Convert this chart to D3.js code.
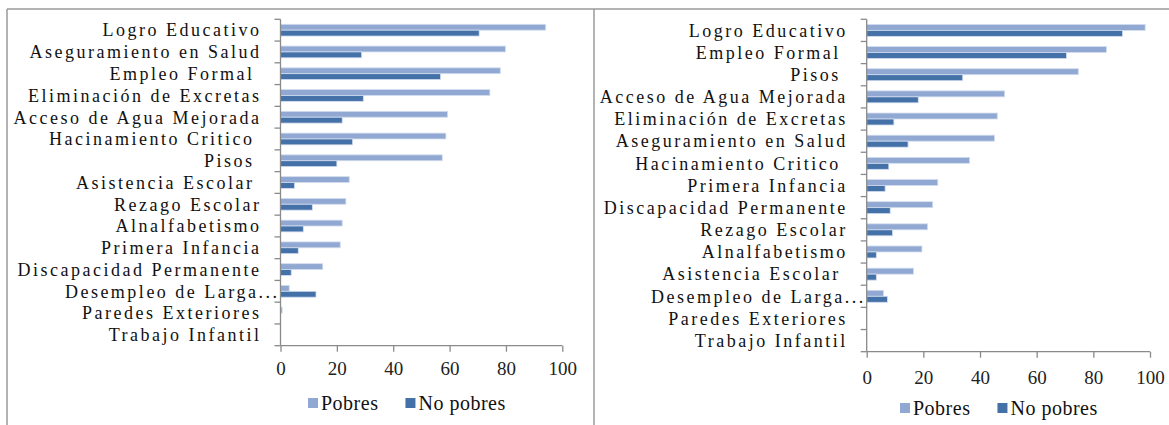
<!DOCTYPE html>
<html>
<head>
<meta charset="utf-8">
<script src="https://cdn.jsdelivr.net/npm/d3@7"></script>
<style>
  body { margin: 0; background: #fff; }
  svg { display: block; }
</style>
</head>
<body>
<svg id="chart" width="1169" height="425"></svg>
<script>
// ---------- data ----------
const seriesNames = ["Pobres", "No pobres"];
const seriesColors = ["#91a9d2", "#4471a8"];

const leftCategories = ["Logro Educativo", "Aseguramiento en Salud", "Empleo Formal ", "Eliminación de Excretas",
  "Acceso de Agua Mejorada", "Hacinamiento Critico ", "Pisos ", "Asistencia Escolar ", "Rezago Escolar",
  "Alnalfabetismo", "Primera Infancia", "Discapacidad Permanente", "Desempleo de Larga...", "Paredes Exteriores",
  "Trabajo Infantil"];
const leftPobres   = [94.1, 79.8, 78.0, 74.3, 59.3, 58.7, 57.4, 24.4, 23.2, 21.9, 21.2, 15.0, 3.1, 0.6, 0];
const leftNoPobres = [70.5, 28.8, 56.8, 29.4, 21.9, 25.6, 20.0, 5.0, 11.3, 8.1, 6.3, 3.8, 12.6, 0, 0];

const rightCategories = ["Logro Educativo", "Empleo Formal ", "Pisos ", "Acceso de Agua Mejorada",
  "Eliminación de Excretas", "Aseguramiento en Salud", "Hacinamiento Critico ", "Primera Infancia",
  "Discapacidad Permanente", "Rezago Escolar", "Alnalfabetismo", "Asistencia Escolar ", "Desempleo de Larga...",
  "Paredes Exteriores", "Trabajo Infantil"];
const rightPobres   = [98.3, 84.6, 74.7, 48.7, 46.1, 45.1, 36.3, 25.1, 23.3, 21.5, 19.5, 16.5, 5.9, 0, 0];
const rightNoPobres = [90.3, 70.5, 33.9, 18.2, 9.6, 14.6, 7.8, 6.5, 8.3, 9.1, 3.4, 3.4, 7.3, 0, 0];

const xTicks = [0, 20, 40, 60, 80, 100];

// ---------- drawing ----------
const FONT = "'Liberation Serif', 'Times New Roman', Times, 'DejaVu Serif', serif";
const svg = d3.select("#chart");
const frameColor = "#9a9a9a";

// frame lines
svg.append("line").attr("x1", 7).attr("x2", 1169).attr("y1", 9).attr("y2", 9)
  .attr("stroke", frameColor).attr("stroke-width", 1.5);
svg.append("line").attr("x1", 7).attr("x2", 7).attr("y1", 9).attr("y2", 425)
  .attr("stroke", frameColor).attr("stroke-width", 1.5);
svg.append("line").attr("x1", 594).attr("x2", 594).attr("y1", 9).attr("y2", 425)
  .attr("stroke", frameColor).attr("stroke-width", 1.5);

function panel(cfg) {
  const g = svg.append("g");
  const x = d3.scaleLinear().domain([0, 100]).range([cfg.x0, cfg.x1]);
  const y = d3.scaleBand().domain(cfg.categories).range([cfg.y0, cfg.y1]).paddingInner(0.46).paddingOuter(0.23);
  const ys = d3.scaleBand().domain(seriesNames).range([0, y.bandwidth()]);
  const axisColor = "#8a8a8a";

  // bars
  const rows = cfg.categories.map((c, i) => ({ cat: c, vals: [cfg.pobres[i], cfg.noPobres[i]] }));
  const rowG = g.selectAll("g.row").data(rows).join("g")
    .attr("transform", d => `translate(0,${y(d.cat)})`);
  rowG.selectAll("rect").data(d => d.vals.map((v, k) => ({ v, k })))
    .join("rect")
    .attr("x", x(0))
    .attr("y", d => ys(seriesNames[d.k]))
    .attr("width", d => Math.max(0, x(d.v) - x(0)))
    .attr("height", ys.bandwidth())
    .attr("fill", d => seriesColors[d.k])
    .attr("stroke", d => d.v > 0 ? "#d3ddef" : "none")
    .attr("stroke-width", 0.8);

  // y axis line and ticks (at band boundaries)
  const step = (cfg.y1 - cfg.y0) / cfg.categories.length;
  g.append("line").attr("x1", x(0)).attr("x2", x(0)).attr("y1", cfg.y0).attr("y2", cfg.y1)
    .attr("stroke", axisColor).attr("stroke-width", 1.3);
  g.selectAll("line.ytick").data(d3.range(cfg.categories.length + 1)).join("line")
    .attr("class", "ytick")
    .attr("x1", x(0) - 6).attr("x2", x(0))
    .attr("y1", i => cfg.y0 + i * step).attr("y2", i => cfg.y0 + i * step)
    .attr("stroke", axisColor).attr("stroke-width", 1.3);

  // category labels
  g.selectAll("text.cat").data(cfg.categories).join("text")
    .attr("class", "cat")
    .attr("x", d => d.endsWith("...") ? x(0) - 1 : x(0) - 19)
    .attr("y", d => y(d) + y.bandwidth() / 2)
    .attr("dy", "0.35em")
    .attr("text-anchor", "end")
    .style("font-family", FONT)
    .style("font-size", "18px")
    .style("letter-spacing", "2.5px")
    .style("white-space", "pre")
    .attr("fill", "#111")
    .text(d => d);

  // x axis
  const xa = d3.axisBottom(x).tickValues(xTicks).tickSize(6).tickPadding(cfg.tickPad).tickFormat(d3.format("d"));
  const ax = g.append("g").attr("transform", `translate(0,${cfg.y1})`).call(xa);
  ax.attr("font-family", null).attr("font-size", null);
  ax.select(".domain").attr("stroke", axisColor).attr("stroke-width", 1.3)
    .attr("d", `M${cfg.x0},0H${cfg.x1}`);
  ax.selectAll(".tick line").attr("stroke", axisColor).attr("stroke-width", 1.3);
  ax.selectAll(".tick text").style("font-size", "19px")
    .style("font-family", FONT).attr("fill", "#222");

  // legend
  const lg = g.append("g").attr("transform", `translate(${cfg.legendX},${cfg.legendY})`);
  let offset = 0;
  seriesNames.forEach((s, k) => {
    lg.append("rect").attr("x", offset).attr("y", -5).attr("width", 10).attr("height", 10)
      .attr("fill", seriesColors[k]);
    const t = lg.append("text").attr("x", offset + 13).attr("y", 0).attr("dy", "0.35em")
      .style("font-family", FONT).style("font-size", "20px").style("letter-spacing", "0.5px")
      .attr("fill", "#111").text(s);
    offset += 13 + t.node().getComputedTextLength() + cfg.legendGap;
  });
}

panel({
  categories: leftCategories, pobres: leftPobres, noPobres: leftNoPobres,
  x0: 280.5, x1: 562.3, y0: 19.3, y1: 345.7, tickPad: 10,
  legendX: 308, legendY: 403, legendGap: 27
});
panel({
  categories: rightCategories, pobres: rightPobres, noPobres: rightNoPobres,
  x0: 866.7, x1: 1150, y0: 19.3, y1: 351.7, tickPad: 13,
  legendX: 900, legendY: 408, legendGap: 27
});
</script>
</body>
</html>
